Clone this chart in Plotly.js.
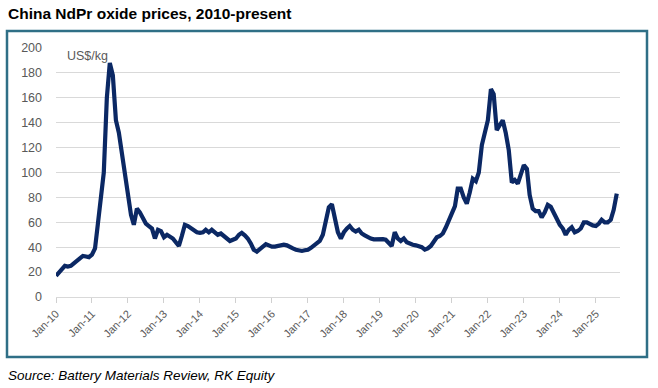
<!DOCTYPE html>
<html>
<head>
<meta charset="utf-8">
<script src="https://cdn.plot.ly/plotly-3.0.1.min.js"></script>
<style>html,body{margin:0;padding:0;background:#fff;}#chart{width:658px;height:388px;}</style>
</head>
<body>
<div id="chart"></div>
<script>
// Monthly NdPr oxide price, US$/kg (Jan of each year first)
const p2010 = [17, 20, 23, 25, 24.5, 25, 27, 29, 31, 33, 32.5, 32];
const p2011 = [34, 39, 58, 80, 100, 160, 188, 178, 142, 132, 115, 97];
const p2012 = [83, 66, 58, 71, 68, 64, 59, 57, 55, 47, 54, 53];
const p2013 = [48, 50, 49, 47, 44, 41, 49, 58, 57, 55, 53, 52];
const p2014 = [51.5, 52, 54, 52, 54, 52, 50, 51, 49, 47, 45, 46];
const p2015 = [47, 50, 51.5, 49.5, 47, 43, 38, 36.5, 38.5, 41, 42.5, 41.5];
const p2016 = [40.5, 40.5, 41, 41.5, 42, 41.5, 40, 39, 38, 37.5, 37, 37.5];
const p2017 = [38, 39.5, 41, 42.5, 45, 50, 60, 72, 74.5, 62, 52, 47];
const p2018 = [52, 55, 57, 54, 52.5, 54, 51, 49.5, 48, 47, 46.3, 46.5];
const p2019 = [47, 46.5, 46, 43, 41, 52, 47, 45, 47, 44, 42.5, 42];
const p2020 = [41.5, 41, 40, 38, 39, 41, 45, 48, 49, 51, 56, 62];
const p2021 = [68, 73, 87, 87, 80, 75, 84, 95, 93, 100, 122, 132];
const p2022 = [142, 167, 163, 134, 138, 142, 132, 118, 92, 94, 91, 98];
const p2023 = [106, 103, 82, 71, 69, 69, 64, 68, 74, 72.5, 67, 62];
const p2024 = [58, 55, 50, 54, 56, 52, 53, 55, 60, 60, 58.5, 57.5];
const p2025 = [57, 59, 62, 60, 60, 62, 70, 83];

const years = [2010,2011,2012,2013,2014,2015,2016,2017,2018,2019,2020,2021,2022,2023,2024,2025];
const yearly = [p2010,p2011,p2012,p2013,p2014,p2015,p2016,p2017,p2018,p2019,p2020,p2021,p2022,p2023,p2024,p2025];

const tickVals = ['2010-01-01','2011-01-01','2012-01-01','2013-01-01','2014-01-01','2015-01-01','2016-01-01','2017-01-01','2018-01-01','2019-01-01','2020-01-01','2021-01-01','2022-01-01','2023-01-01','2024-01-01','2025-01-01'];
const tickText = ['Jan-10','Jan-11','Jan-12','Jan-13','Jan-14','Jan-15','Jan-16','Jan-17','Jan-18','Jan-19','Jan-20','Jan-21','Jan-22','Jan-23','Jan-24','Jan-25'];

const dates = [], prices = [];
yearly.forEach((arr, i) => {
  arr.forEach((v, m) => {
    dates.push(years[i] + '-' + String(m + 1).padStart(2, '0') + '-01');
    prices.push(v);
  });
});

const grey = '#595959';
const trace = {
  x: dates, y: prices, type: 'scatter', mode: 'lines',
  line: {color: '#0b2864', width: 4.2, shape: 'linear'},
  hoverinfo: 'skip'
};

const layout = {
  width: 658, height: 388,
  margin: {l: 56, r: 38, t: 48, b: 91},
  paper_bgcolor: '#ffffff', plot_bgcolor: '#ffffff',
  showlegend: false,
  font: {family: 'Liberation Sans, Arial, sans-serif', color: grey},
  xaxis: {
    type: 'date',
    range: ['2010-01-01', '2025-09-03'],
    tickvals: tickVals, ticktext: tickText,
    tickangle: -45,
    tickfont: {size: 11, color: grey},
    ticks: 'outside', ticklen: 5, tickcolor: '#d0d0d0', tickwidth: 1,
    showgrid: false, zeroline: false,
    showline: true, linecolor: '#d9d9d9', linewidth: 1,
    fixedrange: true
  },
  yaxis: {
    range: [0, 200], dtick: 20,
    tickfont: {size: 12.5, color: grey},
    showgrid: true, gridcolor: '#d9d9d9', gridwidth: 1,
    zeroline: false, showline: false,
    ticks: '', ticklabelstandoff: 13,
    fixedrange: true
  },
  annotations: [
    {text: '<b>China NdPr oxide prices, 2010-present</b>', xref: 'paper', yref: 'paper',
     x: (6 - 56) / 564, y: (297 - 13) / 249, xanchor: 'left', yanchor: 'middle',
     showarrow: false, font: {family: 'Liberation Sans, Arial, sans-serif', size: 15.5, color: '#000000'}},
    {text: 'US$/kg', xref: 'paper', yref: 'paper',
     x: (65 - 56) / 564, y: (297 - 56) / 249, xanchor: 'left', yanchor: 'middle',
     showarrow: false, font: {size: 12.5, color: grey}},
    {text: '<i>Source: Battery Materials Review, RK Equity</i>', xref: 'paper', yref: 'paper',
     x: (6 - 56) / 564, y: (297 - 375) / 249, xanchor: 'left', yanchor: 'middle',
     showarrow: false, font: {family: 'Liberation Sans, Arial, sans-serif', size: 13.5, color: '#000000'}}
  ],
  shapes: [
    {type: 'rect', xref: 'paper', yref: 'paper',
     x0: (7 - 56) / 564, x1: (647 - 56) / 564,
     y0: (297 - 357) / 249, y1: (297 - 31) / 249,
     line: {color: '#2f6f86', width: 2.5}, fillcolor: 'rgba(0,0,0,0)', layer: 'below'}
  ]
};

Plotly.newPlot('chart', [trace], layout, {staticPlot: true, displayModeBar: false});
</script>
</body>
</html>
